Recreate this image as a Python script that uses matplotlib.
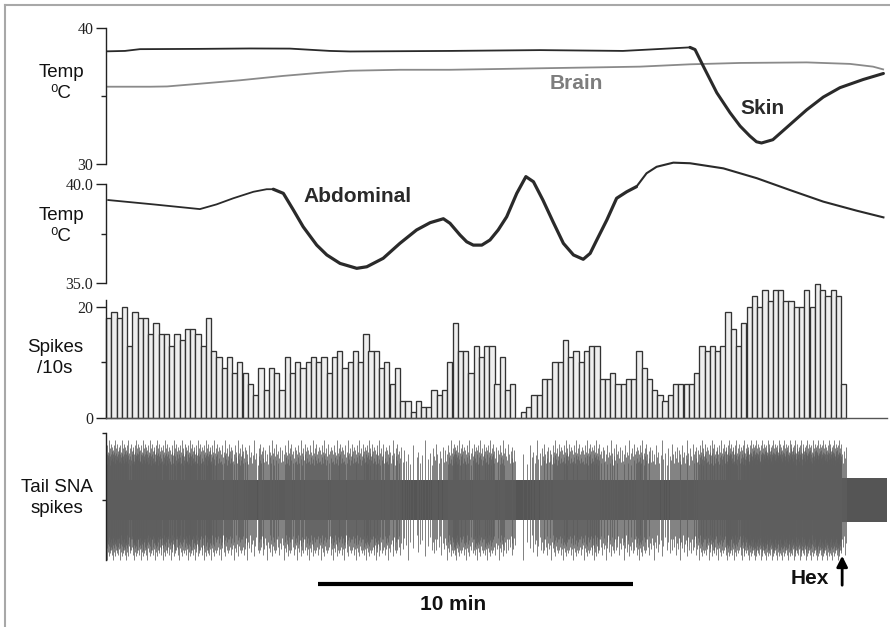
import matplotlib
matplotlib.use("Agg")
import matplotlib.pyplot as plt
import numpy as np
from matplotlib.lines import Line2D

plt.rcParams['font.family'] = ['Liberation Sans', 'DejaVu Sans']

# ---------------- data (time in minutes) ----------------
skin_t = [0.03, 0.60, 1.08, 2.98, 4.57, 5.84, 7.11, 7.75, 10.92, 13.78, 16.41, 18.54,
          18.70, 18.96, 19.39, 19.81, 20.13, 20.44, 20.65, 20.81, 21.17, 21.71, 22.24,
          22.77, 23.30, 24.04, 24.68]
skin_temp = [38.27, 38.30, 38.43, 38.45, 38.48, 38.47, 38.30, 38.26, 38.30, 38.36, 38.30, 38.56,
             38.40, 37.19, 35.24, 33.78, 32.80, 32.07, 31.65, 31.56, 31.80, 32.90, 33.98,
             34.92, 35.61, 36.21, 36.65]

brain_t = [0.03, 1.40, 1.94, 2.98, 4.25, 5.62, 6.79, 7.75, 9.33, 10.92, 12.51, 13.78,
           15.68, 16.95, 18.54, 20.13, 22.25, 23.62, 24.35, 24.67]
brain_temp = [35.68, 35.68, 35.70, 35.90, 36.15, 36.47, 36.70, 36.85, 36.92, 36.92, 36.98, 37.03,
              37.10, 37.15, 37.32, 37.42, 37.46, 37.35, 37.15, 36.95]

abd_t = [0.07, 1.50, 2.98, 3.51, 4.04, 4.68, 5.10, 5.31, 5.63, 5.95, 6.26, 6.69, 7.01, 7.43,
         7.96, 8.28, 8.80, 9.33, 9.86, 10.29, 10.71, 10.92, 11.24, 11.45, 11.66, 11.93, 12.19,
         12.45, 12.72, 13.04, 13.33, 13.57, 13.87, 14.19, 14.52, 14.84, 15.15, 15.37, 15.58,
         15.90, 16.21, 16.53, 16.84, 17.16, 17.48, 18.01, 18.54, 19.60, 20.66, 21.71, 22.77,
         23.83, 24.68]
abd_temp = [39.20, 38.98, 38.74, 38.98, 39.29, 39.62, 39.75, 39.75, 39.54, 38.69, 37.84, 36.91,
            36.41, 35.98, 35.73, 35.81, 36.24, 37.00, 37.68, 38.05, 38.25, 38.02, 37.42, 37.08,
            36.91, 36.91, 37.17, 37.68, 38.35, 39.54, 40.39, 40.13, 39.20, 38.10, 37.00, 36.41,
            36.19, 36.49, 37.17, 38.19, 39.29, 39.62, 39.88, 40.56, 40.89, 41.10, 41.07, 40.81,
            40.31, 39.71, 39.12, 38.66, 38.32]

# spikes per 10 s bin
spikes = [18, 19, 18, 20, 13, 19, 18, 18, 15, 17, 15, 15, 13, 15, 14, 16, 16, 15, 13, 18,
          12, 11, 9, 11, 8, 10, 8, 6, 4, 9, 5, 9, 8, 5, 11, 8, 10, 9, 10, 11,
          10, 11, 8, 11, 12, 9, 10, 12, 10, 15, 12, 12, 9, 10, 6, 9, 3, 3, 1, 3,
          2, 2, 5, 4, 5, 10, 17, 12, 12, 8, 13, 11, 13, 13, 6, 11, 5, 6, 0, 1,
          2, 4, 4, 7, 7, 10, 10, 14, 11, 12, 10, 12, 13, 13, 7, 7, 8, 6, 6, 7,
          7, 12, 9, 7, 5, 4, 3, 4, 6, 6, 6, 6, 8, 13, 12, 13, 12, 13, 19, 16,
          13, 17, 20, 22, 20, 23, 21, 23, 23, 21, 21, 20, 20, 23, 20, 24, 23, 22, 23, 22, 6]
bin_min = 1 / 6.0

# relative spike amplitude pattern
spike_amp_pattern = [1.0, 0.78, 0.93, 0.72, 1.10, 0.86, 0.97, 0.75, 0.90, 1.20, 0.83, 0.95,
                     0.70, 1.04, 0.88, 0.80, 1.12, 0.92, 0.74, 0.99, 0.84, 1.06, 0.77]
spike_amp = 50
core_t = [0.0, 23.37, 23.37, 24.80]
core_half = [20, 20, 22, 22]
hex_t = 23.37

# ---------------- layout ----------------
W, H = 890, 627
fig = plt.figure(figsize=(W / 100, H / 100), dpi=100)
XMAX = 781 / 31.5


def ax_at(top_px, bot_px):
    ax = fig.add_axes([106 / W, 1 - bot_px / H, 781 / W, (bot_px - top_px) / H])
    ax.set_facecolor('none')
    ax.set_xlim(0, XMAX)
    for s in ['top', 'right', 'bottom']:
        ax.spines[s].set_visible(False)
    ax.spines['left'].set_linewidth(1.0)
    ax.spines['left'].set_color('#222222')
    ax.set_xticks([])
    ax.tick_params(axis='y', which='major', length=7, width=1.0, pad=2, labelsize=11,
                   colors='#222222', direction='out')
    ax.tick_params(axis='y', which='minor', length=3.8, width=1.0, color='#222222', direction='out')
    return ax


def set_ticks(ax, major, labels, minor):
    ax.set_yticks(major)
    ax.set_yticklabels(labels, fontfamily='Liberation Serif', fontsize=11.5)
    ax.set_yticks(minor, minor=True)


# Top panel: brain & skin
ax1 = ax_at(20, 170)
ax1.set_ylim(29.583, 40.564)
ax1.spines['left'].set_bounds(30, 40)
set_ticks(ax1, [30, 40], ['30', '40'], [35])
ax1.plot(brain_t, brain_temp, color='#8a8a8a', lw=1.3)
ax1.plot(skin_t[:12], skin_temp[:12], color='#2a2a2a', lw=1.3)
ax1.plot(skin_t[11:], skin_temp[11:], color='#2a2a2a', lw=2.2, solid_capstyle='round',
         solid_joinstyle='round')
ax1.text((576 - 106) / 31.5, 35.9, 'Brain', color='#7d7d7d', fontsize=15, fontweight='bold',
         ha='center', va='center')
ax1.text((762 - 106) / 31.5, 34.05, 'Skin', color='#2a2a2a', fontsize=15, fontweight='bold',
         ha='center', va='center')

# Middle panel: abdominal
ax2 = ax_at(160, 285)
ax2.set_ylim(34.883, 41.235)
ax2.spines['left'].set_bounds(35, 40)
set_ticks(ax2, [35, 40], ['35.0', '40.0'], [37.5])
ax2.plot(abd_t[:8], abd_temp[:8], color='#2a2a2a', lw=1.3, solid_joinstyle='round')
ax2.plot(abd_t[7:43], abd_temp[7:43], color='#2a2a2a', lw=2.3, solid_capstyle='round',
         solid_joinstyle='round')
ax2.plot(abd_t[42:], abd_temp[42:], color='#2a2a2a', lw=1.5, solid_joinstyle='round')
ax2.text((358 - 106) / 31.5, 40 - (196 - 184.3) / 19.67, 'Abdominal', color='#2a2a2a',
         fontsize=15, fontweight='bold', ha='center', va='center')

# Bar panel
ax3 = ax_at(280, 417.7)
ax3.set_ylim(0, 24.81)
ax3.spines['left'].set_bounds(0, 21.2)
ax3.spines['bottom'].set_visible(True)
ax3.spines['bottom'].set_color('#555555')
ax3.spines['bottom'].set_linewidth(1.0)
set_ticks(ax3, [0, 20], ['0', '20'], [10])
bx = np.arange(len(spikes)) * bin_min
ax3.bar(bx, spikes, width=bin_min, align='edge', color='#eeeeee', edgecolor='#333333',
        linewidth=0.95, clip_on=False)

# SNA panel
ax4 = ax_at(425, 570)
ax4.set_ylim(-70, 75)
ax4.spines['left'].set_bounds(-60, 67)
ax4.set_yticks([0, 67])
ax4.set_yticklabels([])
ax4.tick_params(axis='y', which='major', length=3)
ax4.fill_between(core_t, [-c for c in core_half], core_half, color='#555555', lw=0)
sx, up, dn = [], [], []
j = 0
np_pat = len(spike_amp_pattern)
for i, n in enumerate(spikes):
    for k in range(n):
        sx.append((i + (k + 0.5) / n) * bin_min)
        up.append(spike_amp * spike_amp_pattern[j % np_pat])
        dn.append(-spike_amp * spike_amp_pattern[(j + 7) % np_pat])
        j += 1
ax4.vlines(sx, dn, up, color='#5e5e5e', lw=0.55)

# scale bar & labels
ax4.plot([6.73, 16.73], [-84, -84], color='black', lw=3.0, solid_capstyle='butt', clip_on=False)
ax4.text((420 - 106) / 31.5, -104, '10 min', fontsize=15, fontweight='bold', ha='left',
         va='center', color='#111111')
ax4.annotate('', xy=(hex_t, -53), xytext=(hex_t, -88),
             arrowprops=dict(arrowstyle='-|>', color='black', lw=2.0, mutation_scale=16),
             annotation_clip=False)
ax4.text((810 - 106) / 31.5, -79, 'Hex', fontsize=15, fontweight='bold', ha='center',
         va='center', color='#111111')

# y labels (figure pixel coordinates)
def flabel(x, y, s):
    fig.text(x / W, 1 - y / H, s, fontsize=13.5, ha='center', va='center',
             multialignment='center', color='#111111', linespacing=1.25)

flabel(61, 83, 'Temp\n\u2070C')
flabel(61, 226, 'Temp\n\u2070C')
flabel(55, 358, 'Spikes\n/10s')
flabel(57, 498, 'Tail SNA\nspikes')

# frame lines
fig.add_artist(Line2D([5 / W, 1], [1 - 5 / H, 1 - 5 / H], transform=fig.transFigure,
                      color='#a8a8a8', lw=1.5))
fig.add_artist(Line2D([5 / W, 5 / W], [0, 1 - 5 / H], transform=fig.transFigure,
                      color='#a8a8a8', lw=1.5))

fig.savefig('out.png', dpi=100)
